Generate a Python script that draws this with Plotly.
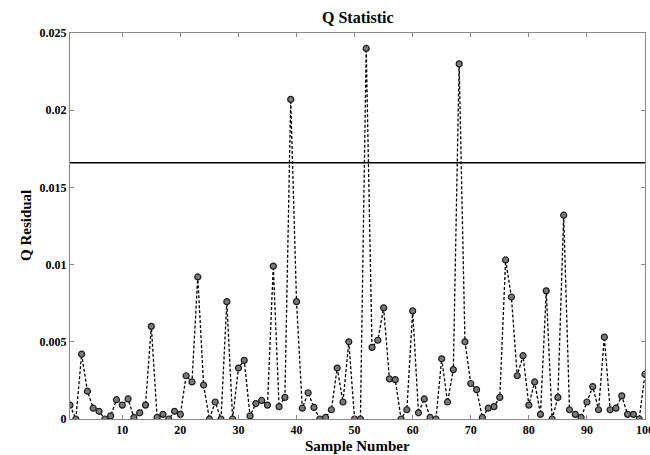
import plotly.graph_objects as go

sample = list(range(1, 101))
q_residual = [
    0.0009, 0.0000, 0.0042, 0.0018, 0.0007, 0.0005, 0.0000, 0.0002, 0.00125, 0.0009,
    0.0013, 0.0001, 0.0004, 0.0009, 0.0060, 0.0001, 0.0003, 0.0000, 0.0005, 0.0003,
    0.0028, 0.0024, 0.0092, 0.0022, 0.0000, 0.0011, 0.0000, 0.0076, 0.0000, 0.0033,
    0.0038, 0.0002, 0.0010, 0.0012, 0.0009, 0.0099, 0.0008, 0.0014, 0.0207, 0.0076,
    0.0007, 0.0017, 0.00075, 0.0000, 0.0001, 0.0006, 0.0033, 0.0011, 0.0050, 0.0000,
    0.0000, 0.0240, 0.00464, 0.0051, 0.0072, 0.0026, 0.00255, 0.0000, 0.0006, 0.0070,
    0.0004, 0.0013, 0.0001, 0.0000, 0.0039, 0.0011, 0.0032, 0.0230, 0.0050, 0.0023,
    0.0019, 0.0001, 0.0007, 0.0008, 0.0014, 0.0103, 0.0079, 0.0028, 0.0041, 0.0009,
    0.0024, 0.0003, 0.0083, 0.0000, 0.0014, 0.0132, 0.0006, 0.0003, 0.0001, 0.0011,
    0.0021, 0.0006, 0.0053, 0.0006, 0.0007, 0.0015, 0.0003, 0.0003, 0.0000, 0.0029,
]
limit = 0.0166
x_ticks = [10, 20, 30, 40, 50, 60, 70, 80, 90, 100]
x_tick_text = ["10", "20", "30", "40", "50", "60", "70", "80", "90", "100"]
y_ticks = [0, 0.005, 0.01, 0.015, 0.02, 0.025]
y_tick_text = ["0", "0.005", "0.01", "0.015", "0.02", "0.025"]

FONT = "Liberation Serif"

fig = go.Figure()
fig.add_trace(go.Scatter(
    x=[1, 100], y=[limit, limit], mode="lines",
    line=dict(color="black", width=1.6), hoverinfo="skip", showlegend=False,
))
fig.add_trace(go.Scatter(
    x=sample, y=q_residual, mode="lines+markers",
    line=dict(color="black", width=1.3, dash="3px,2px"),
    marker=dict(size=6, color="#7a7a7a", line=dict(color="#1a1a1a", width=1.2)),
    showlegend=False,
))

axis_common = dict(
    showline=True, linecolor="#888888", linewidth=1, mirror="ticks",
    ticks="inside", ticklen=4, tickcolor="#888888", showgrid=False, zeroline=False,
    tickfont=dict(family=FONT, size=12, color="black"),
    ticklabeloverflow="allow", automargin=False,
)
fig.update_xaxes(range=[1, 100], tickvals=x_ticks,
                 ticktext=[f"<b>{t}</b>" for t in x_tick_text], **axis_common)
fig.update_yaxes(range=[0, 0.025], tickvals=y_ticks,
                 ticktext=[f"<b>{t}</b>" for t in y_tick_text], **axis_common)

fig.update_layout(
    width=650, height=455,
    margin=dict(l=70, r=5, t=33, b=36),
    plot_bgcolor="white", paper_bgcolor="white",
    font=dict(family=FONT, color="black"),
    annotations=[
        dict(text="<b>Q Statistic</b>", x=0.5, y=1, xref="paper", yref="paper",
             xanchor="center", yanchor="bottom", yshift=5, showarrow=False,
             font=dict(family=FONT, size=16)),
        dict(text="<b>Sample Number</b>", x=0.5, y=0, xref="paper", yref="paper",
             xanchor="center", yanchor="top", yshift=-17, showarrow=False,
             font=dict(family=FONT, size=15)),
        dict(text="<b>Q Residual</b>", x=0, y=0.5, xref="paper", yref="paper",
             xanchor="center", yanchor="middle", xshift=-44, textangle=-90,
             showarrow=False, font=dict(family=FONT, size=15)),
    ],
)

fig.write_html("out.html")
